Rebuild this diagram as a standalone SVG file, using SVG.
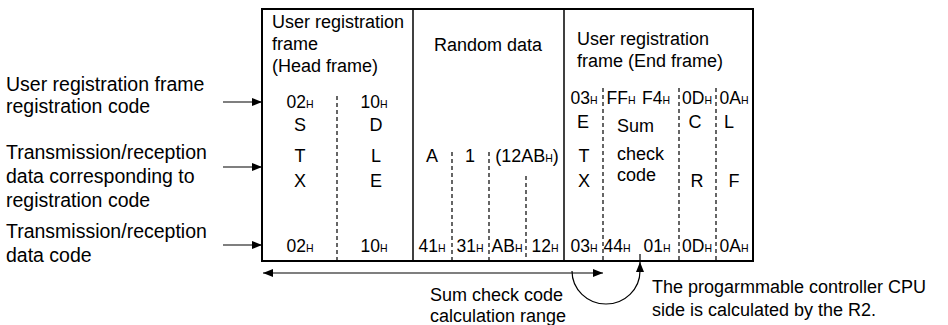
<svg xmlns="http://www.w3.org/2000/svg" width="948" height="325" viewBox="0 0 948 325">
<style>
text{font-family:"Liberation Sans",Arial,sans-serif;fill:#000}
.lbl{font-size:19.5px}
.t{font-size:18px}
.c{font-size:17.5px;text-anchor:middle}
.m{text-anchor:middle}
.h{font-size:10.5px}
.frame{fill:none;stroke:#000;stroke-width:2}
.solid{stroke:#000;stroke-width:1.5}
.dash{stroke:#000;stroke-width:1.2;stroke-dasharray:4,3}
.conn{fill:none;stroke:#000;stroke-width:1.2}
</style>
<defs>
<marker id="ah" viewBox="0 0 10 8" refX="10" refY="4" markerWidth="10" markerHeight="8" markerUnits="userSpaceOnUse" orient="auto-start-reverse">
<path d="M0,0 L10,4 L0,8 z" fill="#000"/>
</marker>
</defs>

<g id="labels">
<text class="lbl" x="6" y="91">User registration frame</text>
<text class="lbl" x="6" y="113">registration code</text>
<text class="lbl" x="6" y="159">Transmission/reception</text>
<text class="lbl" x="6" y="183">data corresponding to</text>
<text class="lbl" x="6" y="207">registration code</text>
<text class="lbl" x="6" y="238">Transmission/reception</text>
<text class="lbl" x="6" y="262">data code</text>
</g>

<g id="table">
<rect class="frame" x="262" y="9" width="491" height="252"/>
<line class="solid" x1="413" y1="9" x2="413" y2="261"/>
<line class="solid" x1="564" y1="9" x2="564" y2="261"/>
<line class="dash" x1="337" y1="96" x2="337" y2="261"/>
<line class="dash" x1="452" y1="152" x2="452" y2="261"/>
<line class="dash" x1="489" y1="152" x2="489" y2="261"/>
<line class="dash" x1="526" y1="176" x2="526" y2="261"/>
<line class="dash" x1="603" y1="88" x2="603" y2="261"/>
<line class="dash" x1="679" y1="88" x2="679" y2="261"/>
<line class="dash" x1="716" y1="88" x2="716" y2="261"/>
</g>

<g id="head-frame">
<text class="t" x="272" y="28">User registration</text>
<text class="t" x="272" y="50">frame</text>
<text class="t" x="272" y="72">(Head frame)</text>
<text class="c" x="300" y="108">02<tspan class="h">H</tspan></text>
<text class="c" x="374" y="108">10<tspan class="h">H</tspan></text>
<text class="t m" x="300" y="131">S</text>
<text class="t m" x="376" y="131">D</text>
<text class="t m" x="300" y="162">T</text>
<text class="t m" x="376" y="162">L</text>
<text class="t m" x="300" y="187">X</text>
<text class="t m" x="376" y="187">E</text>
<text class="c" x="300" y="252">02<tspan class="h">H</tspan></text>
<text class="c" x="374" y="252">10<tspan class="h">H</tspan></text>
</g>

<g id="random-data">
<text class="t m" x="488" y="51">Random data</text>
<text class="t m" x="432" y="162">A</text>
<text class="t m" x="470" y="162">1</text>
<text class="t m" x="527" y="162">(12AB<tspan class="h">H</tspan>)</text>
<text class="c" x="432" y="252">41<tspan class="h">H</tspan></text>
<text class="c" x="470" y="252">31<tspan class="h">H</tspan></text>
<text class="c" x="507" y="252">AB<tspan class="h">H</tspan></text>
<text class="c" x="545" y="252">12<tspan class="h">H</tspan></text>
</g>

<g id="end-frame">
<text class="t" x="577" y="45">User registration</text>
<text class="t" x="577" y="67">frame (End frame)</text>
<text class="c" x="584" y="104">03<tspan class="h">H</tspan></text>
<text class="c" x="621" y="104">FF<tspan class="h">H</tspan></text>
<text class="c" x="656" y="104">F4<tspan class="h">H</tspan></text>
<text class="c" x="697" y="104">0D<tspan class="h">H</tspan></text>
<text class="c" x="734" y="104">0A<tspan class="h">H</tspan></text>
<text class="t m" x="583" y="128">E</text>
<text class="t" x="617" y="132">Sum</text>
<text class="t m" x="695" y="128">C</text>
<text class="t m" x="729" y="128">L</text>
<text class="t m" x="584" y="162">T</text>
<text class="t" x="617" y="160">check</text>
<text class="t m" x="584" y="187">X</text>
<text class="t" x="617" y="181">code</text>
<text class="t m" x="697" y="187">R</text>
<text class="t m" x="734" y="187">F</text>
<text class="c" x="584" y="252">03<tspan class="h">H</tspan></text>
<text class="c" x="617" y="252">44<tspan class="h">H</tspan></text>
<text class="c" x="657" y="252">01<tspan class="h">H</tspan></text>
<text class="c" x="697" y="252">0D<tspan class="h">H</tspan></text>
<text class="c" x="734" y="252">0A<tspan class="h">H</tspan></text>
</g>

<g id="notes">
<text class="t" x="430" y="301">Sum check code</text>
<text class="t" x="430" y="322">calculation range</text>
<text class="t" x="652" y="293">The progarmmable controller CPU</text>
<text class="t" x="652" y="316">side is calculated by the R2.</text>
</g>

<g id="connectors">
<line class="conn" x1="223" y1="102" x2="262" y2="102" marker-end="url(#ah)"/>
<line class="conn" x1="223" y1="167" x2="262" y2="167" marker-end="url(#ah)"/>
<line class="conn" x1="223" y1="245" x2="262" y2="245" marker-end="url(#ah)"/>
<line class="conn" x1="263" y1="273" x2="603" y2="273" marker-start="url(#ah)" marker-end="url(#ah)"/>
<path class="conn" d="M572,271 A34,33 0 0 0 640,271 L640,262" marker-end="url(#ah)"/>
<line class="conn" x1="640" y1="254" x2="640" y2="262"/>
</g>
</svg>
